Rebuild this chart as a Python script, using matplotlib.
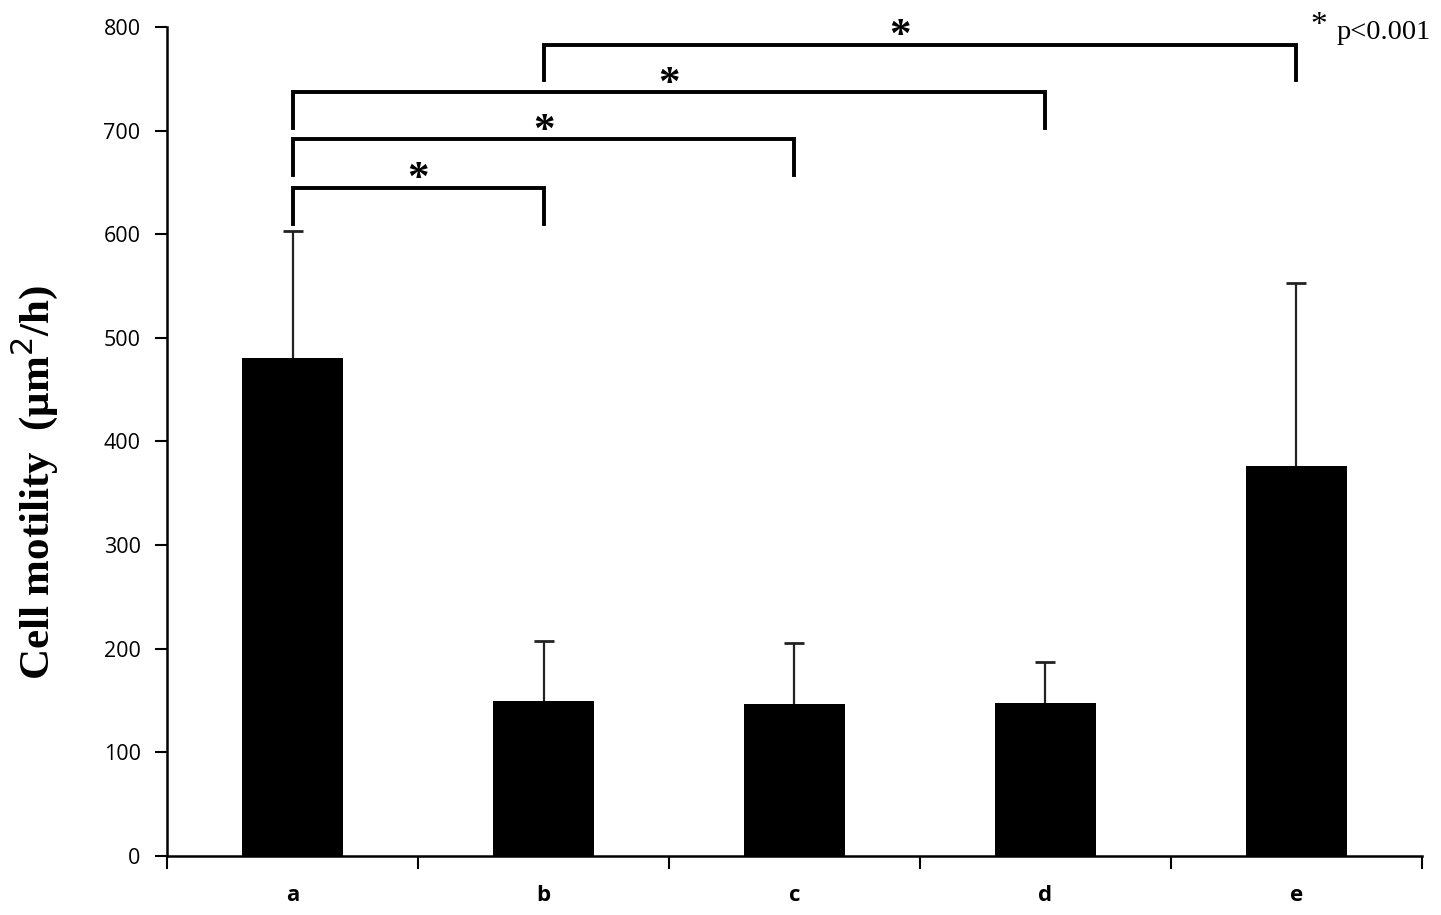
import numpy as np
import matplotlib.pyplot as plt

# data
groups = ['a', 'b', 'c', 'd', 'e']
motility = [481, 150, 147, 148, 376]
sd = [122, 57, 59, 39, 177]

# significance brackets: (left group, right group, bar height, leg bottom)
brackets = [(0, 1, 645, 610), (0, 2, 692, 657), (0, 3, 737, 703), (1, 4, 783, 749)]

fig = plt.figure(figsize=(14.41, 9.15), dpi=100)
ax = fig.add_axes([0.1159, 0.0645, 0.8709, 0.906])

x = np.arange(len(groups))
tops = np.array(motility) + np.array(sd)
ax.bar(x, motility, width=0.4, color='black', zorder=2)
# upward-only error bars with a cap at the top
ax.vlines(x, motility, tops, color='#222222', lw=1.6, zorder=1)
ax.plot(x, tops, ls='none', marker='_', markersize=15, markeredgewidth=2.0,
        color='#222222', zorder=1)

for i, j, h, low in brackets:
    ax.plot([i, i, j, j], [low, h, h, low], color='black', lw=2.8,
            solid_joinstyle='miter', clip_on=False)
    ax.text((i + j) / 2 - (0.08 if j == 4 else 0), h + 7, '*', ha='center', va='center',
            fontsize=31, fontfamily='Liberation Serif', fontweight='bold')

ax.text(4.09, 801, '*', ha='center', va='center', clip_on=False,
        fontsize=24, fontfamily='Liberation Serif')
ax.text(4.16, 795, 'p<0.001', ha='left', va='center', clip_on=False,
        fontsize=20.5, fontfamily='Liberation Serif')

ax.set_xlim(-0.5, 4.5)
ax.set_ylim(0, 800)
ax.set_yticks(range(0, 801, 100))
ax.set_xticks(x)
ax.set_xticklabels(groups, fontsize=16, fontweight='bold', fontfamily='Open Sans')
ax.set_xticks(np.arange(-0.5, 5, 1), minor=True)
ax.tick_params(axis='x', which='major', length=0, pad=21)
ax.tick_params(axis='x', which='minor', length=9, width=1.5, direction='out')
ax.tick_params(axis='y', length=9, width=1.5, labelsize=15.5, pad=10)
for lab in ax.get_yticklabels():
    lab.set_fontfamily('Open Sans')

for s in ['top', 'right']:
    ax.spines[s].set_visible(False)
for s in ['left', 'bottom']:
    ax.spines[s].set_linewidth(1.8)

ax.set_ylabel('Cell motility  (μm$^2$/h)', fontsize=31, fontweight='bold',
              fontfamily='Liberation Serif')
ax.yaxis.set_label_coords(-0.085, 0.451)

fig.savefig('out.png', dpi=100)
